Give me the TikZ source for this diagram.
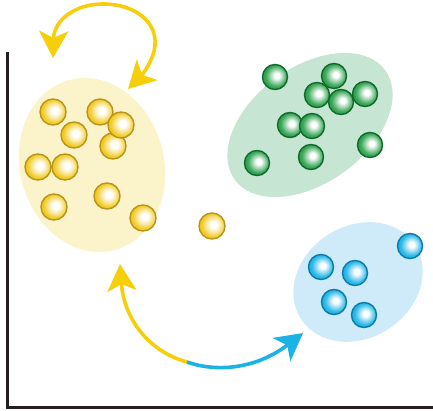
\documentclass[tikz,border=0pt]{standalone}
\usetikzlibrary{arrows.meta,shapes.geometric}

\definecolor{ygold}{RGB}{240,198,18}
\definecolor{yrim}{RGB}{185,148,25}
\definecolor{ggreen}{RGB}{38,158,72}
\definecolor{grim}{RGB}{18,105,45}
\definecolor{bblue}{RGB}{22,178,228}
\definecolor{brim}{RGB}{12,122,172}
\definecolor{ypale}{RGB}{251,244,202}
\definecolor{gpale}{RGB}{198,229,211}
\definecolor{bpale}{RGB}{207,234,248}
\definecolor{arrowyellow}{RGB}{246,206,10}
\definecolor{arrowcyan}{RGB}{28,178,230}
\definecolor{axisgray}{RGB}{35,31,32}

% glossy spheres: soft white highlight a little up and to the right
\pgfdeclareradialshading{yballshade}{\pgfpoint{4bp}{3bp}}{%
  color(0bp)=(white); color(6bp)=(white); color(14bp)=(ygold!40!white);
  color(22bp)=(ygold!88!white); color(28bp)=(ygold); color(50bp)=(ygold)}
\pgfdeclareradialshading{gballshade}{\pgfpoint{4bp}{3bp}}{%
  color(0bp)=(white); color(5bp)=(white); color(13bp)=(ggreen!45!white);
  color(21bp)=(ggreen!90!white); color(27bp)=(ggreen); color(50bp)=(ggreen)}
\pgfdeclareradialshading{bballshade}{\pgfpoint{4bp}{3bp}}{%
  color(0bp)=(white); color(5bp)=(white); color(13bp)=(bblue!45!white);
  color(21bp)=(bblue!90!white); color(27bp)=(bblue); color(50bp)=(bblue)}

\tikzset{
  ball/.style={circle, inner sep=0pt, line width=1.4pt, shade},
  yball/.style={ball, minimum size=26pt, draw=yrim, shading=yballshade},
  gball/.style={ball, minimum size=25pt, draw=grim, shading=gballshade},
  bball/.style={ball, minimum size=25pt, draw=brim, shading=bballshade},
  cluster/.style={ellipse, inner sep=0pt, draw=none},
  flow/.style={line width=3.6pt},
}

\begin{document}
\begin{tikzpicture}[x=1pt, y=-1pt]
  \useasboundingbox (0,0) rectangle (433,411);

  % cluster backgrounds
  \node[cluster, fill=ypale, minimum width=144pt, minimum height=176pt, rotate=15] (yc) at (92,165) {};
  \node[cluster, fill=gpale, minimum width=186pt, minimum height=116pt, rotate=36] (gc) at (310,125) {};
  \node[cluster, fill=bpale, minimum width=136pt, minimum height=112pt, rotate=33] (bc) at (358,282) {};

  % axes
  \draw[axisgray, line width=3pt] (7,52) -- (7,407) -- (433,407);

  % yellow cluster
  \node[yball] (y1) at (53,112) {};
  \node[yball] (y2) at (100,112) {};
  \node[yball] (y3) at (74,135) {};
  \node[yball] (y5) at (113,146) {};
  \node[yball] (y4) at (121,125) {};
  \node[yball] (y6) at (38,167) {};
  \node[yball] (y7) at (65,167) {};
  \node[yball] (y8) at (107,196) {};
  \node[yball] (y9) at (54,207) {};
  \node[yball] (y10) at (143,218) {};
  \node[yball] (y11) at (212,226) {};

  % green cluster
  \node[gball] (g1) at (275,77) {};
  \node[gball] (g2) at (334,76) {};
  \node[gball] (g3) at (317,95) {};
  \node[gball] (g5) at (365,94) {};
  \node[gball] (g4) at (341,102) {};
  \node[gball] (g6) at (290,125) {};
  \node[gball] (g7) at (312,126) {};
  \node[gball] (g8) at (370,145) {};
  \node[gball] (g9) at (311,157) {};
  \node[gball] (g10) at (257,163) {};

  % blue cluster
  \node[bball] (b1) at (410,246) {};
  \node[bball] (b2) at (321,267) {};
  \node[bball] (b3) at (355,273) {};
  \node[bball] (b4) at (334,302) {};
  \node[bball] (b5) at (364,315) {};

  % arrow end points
  \coordinate (loopA) at (53,58);
  \coordinate (loopB) at (128,89);
  \coordinate (upTip) at (120,264);
  \coordinate (split) at (187,362);
  \coordinate (outTip) at (303,333);

  % looping arrow above the yellow cluster
  \draw[flow, arrowyellow, {Stealth[length=27pt, width=29pt, inset=7pt]}-{Stealth[length=27pt, width=29pt, inset=7pt]}]
    (loopA) .. controls (54,20) and (75,4) .. (103,4)
            .. controls (135,4) and (157,22) .. (155,45)
            .. controls (154,60) and (142,75) .. (loopB);

  % two-coloured arrow below
  \draw[flow, arrowyellow, -{Stealth[length=27pt, width=29pt, inset=7pt]}]
    (split) .. controls (150,352) and (124,320) .. (upTip);
  \draw[flow, arrowcyan, -{Stealth[length=27pt, width=29pt, inset=7pt]}]
    (split) .. controls (215,372) and (255,370) .. (outTip);
\end{tikzpicture}
\end{document}
